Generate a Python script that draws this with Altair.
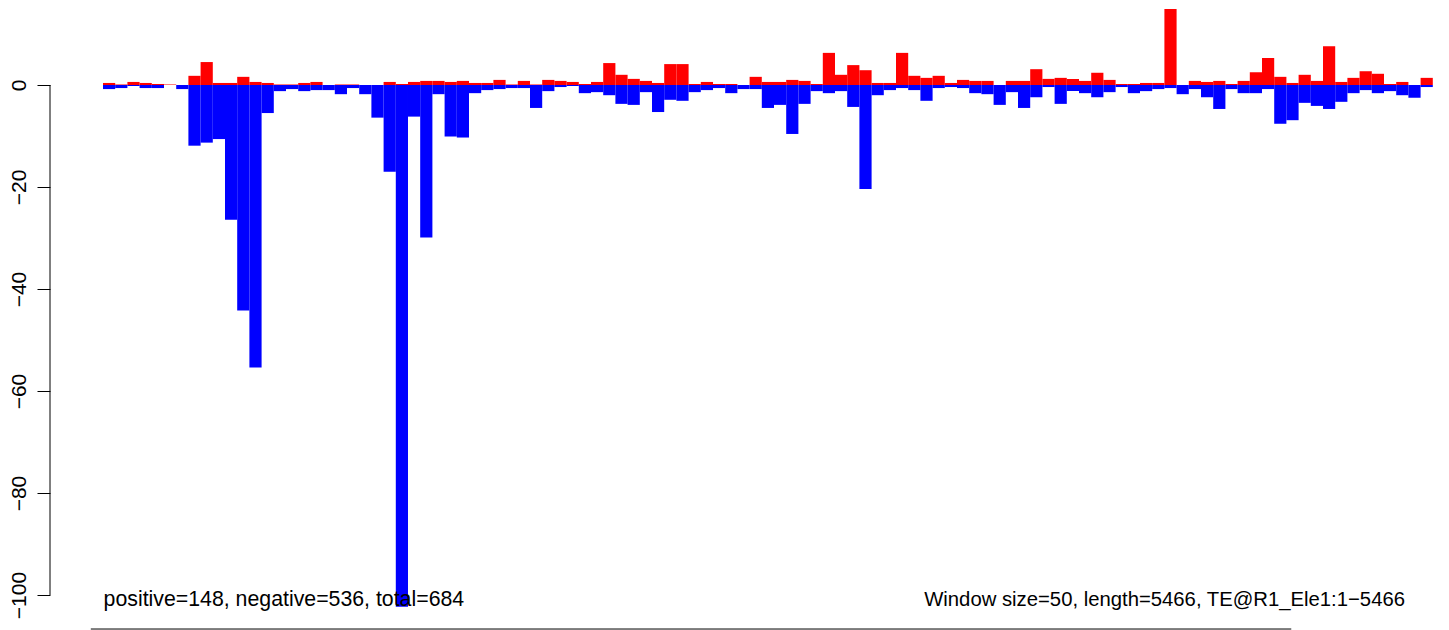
import altair as alt
import pandas as pd

# values (109 windows of 50 bp)
pos_vals = [
    0.4, 0.1, 0.6, 0.4, 0.2, 0.1, 0.0, 1.8, 4.5, 0.4,
    0.4, 1.6, 0.6, 0.4, 0.1, 0.1, 0.4, 0.6, 0.0, 0.1,
    0.1, 0.0, 0.0, 0.6, 0.2, 0.6, 0.8, 0.8, 0.6, 0.8,
    0.4, 0.4, 1.0, 0.1, 0.8, 0.1, 1.0, 0.8, 0.6, 0.2,
    0.6, 4.3, 2.0, 1.2, 0.8, 0.4, 4.1, 4.1, 0.2, 0.6,
    0.2, 0.2, 0.0, 1.6, 0.6, 0.6, 1.0, 0.8, 0.2, 6.3,
    2.0, 3.9, 2.9, 0.4, 0.4, 6.3, 1.8, 1.4, 1.8, 0.4,
    1.0, 0.8, 0.8, 0.0, 0.8, 0.8, 3.1, 1.2, 1.4, 1.2,
    0.8, 2.4, 1.0, 0.2, 0.2, 0.4, 0.4, 14.9, 0.0, 0.8,
    0.6, 0.8, 0.2, 0.8, 2.5, 5.3, 1.6, 0.4, 2.0, 0.8,
    7.6, 0.6, 1.4, 2.7, 2.2, 0.2, 0.6, 0.0, 1.4,
]
neg_vals = [
    -0.8, -0.6, -0.2, -0.6, -0.6, 0.0, -0.8, -11.9, -11.3, -10.6,
    -26.4, -44.2, -55.4, -5.5, -1.2, -0.8, -1.2, -1.0, -1.0, -1.8,
    -0.6, -1.8, -6.4, -17.0, -102.3, -6.2, -29.9, -1.8, -10.1, -10.3,
    -1.6, -1.0, -0.8, -0.6, -0.6, -4.5, -1.2, -0.4, -0.2, -1.6,
    -1.4, -2.0, -3.7, -3.9, -1.4, -5.3, -2.9, -3.1, -1.4, -1.0,
    -0.6, -1.6, -0.8, -0.8, -4.5, -3.9, -9.6, -3.7, -1.2, -1.6,
    -1.2, -4.3, -20.4, -2.0, -1.0, -0.6, -1.0, -3.1, -0.6, -0.4,
    -0.6, -1.6, -1.8, -3.9, -1.4, -4.5, -2.4, -0.4, -3.7, -1.2,
    -1.6, -2.4, -1.4, -0.4, -1.6, -1.2, -0.8, -0.6, -1.8, -0.8,
    -2.4, -4.7, -0.8, -1.6, -1.6, -0.8, -7.6, -6.9, -3.5, -4.1,
    -4.7, -3.3, -1.6, -1.0, -1.6, -1.2, -2.0, -2.5, -0.4,
]
y_ticks = [0, -20, -40, -60, -80, -100]
left_text = "positive=148, negative=536, total=684"
right_text = "Window size=50, length=5466, TE@R1_Ele1:1\u22125466"

n = len(pos_vals)
df = pd.DataFrame({
    "start": list(range(n)),
    "end": [i + 1 for i in range(n)],
    "pos": pos_vals,
    "neg": neg_vals,
    "zero": [0.0] * n,
})

FONT = "Liberation Sans"
xscale = alt.Scale(domain=[-4.344, 109.672], nice=False, zero=False)
yscale = alt.Scale(domain=[-106.86, 15.098], nice=False, zero=False)

base = alt.Chart(df)
blue = base.mark_rect(color="#0000FF").encode(
    x=alt.X("start:Q", scale=xscale, axis=None),
    x2="end:Q",
    y=alt.Y("neg:Q", scale=yscale, title=None,
            axis=alt.Axis(values=y_ticks, grid=False, domain=False, tickSize=13,
                          tickColor="black", tickWidth=1, labelAngle=270,
                          labelAlign="center", labelBaseline="alphabetic",
                          labelPadding=12, labelFont=FONT, labelFontSize=21,
                          labelColor="black")),
    y2="zero:Q",
)
red = base.mark_rect(color="#FF0000").encode(
    x=alt.X("start:Q", scale=xscale, axis=None),
    x2="end:Q",
    y=alt.Y("pos:Q", scale=yscale),
    y2="zero:Q",
)

axis_line = alt.Chart(pd.DataFrame({"a": [y_ticks[0]], "b": [y_ticks[-1]]})).mark_rule(
    color="black", strokeWidth=1
).encode(x=alt.value(0), y=alt.Y("a:Q", scale=yscale), y2="b:Q")

bottom_line = alt.Chart(pd.DataFrame({"x1": [-1.0], "x2": [97.4], "y": [-106.67]})).mark_rule(
    color="black", strokeWidth=1
).encode(x=alt.X("x1:Q", scale=xscale), x2="x2:Q", y=alt.Y("y:Q", scale=yscale))

texts = pd.DataFrame({
    "x": [0.05, 106.72],
    "y": [-102.16, -102.16],
    "t": [left_text, right_text],
})
t_left = alt.Chart(texts.iloc[[0]]).mark_text(
    align="left", baseline="alphabetic", font=FONT, fontSize=21.3, color="black"
).encode(x=alt.X("x:Q", scale=xscale), y=alt.Y("y:Q", scale=yscale), text="t:N")
t_right = alt.Chart(texts.iloc[[1]]).mark_text(
    align="right", baseline="alphabetic", font=FONT, fontSize=20.3, color="black"
).encode(x=alt.X("x:Q", scale=xscale), y=alt.Y("y:Q", scale=yscale), text="t:N")

chart = alt.layer(blue, red, axis_line, bottom_line, t_left, t_right).properties(
    width=1391,
    height=622,
    padding={"left": 42, "top": 0, "right": 0, "bottom": 0},
    autosize=alt.AutoSizeParams(type="none"),
    background="white",
).configure_view(strokeWidth=0, stroke=None)

chart.save("out.html", embed_options={"renderer": "svg", "actions": False})
